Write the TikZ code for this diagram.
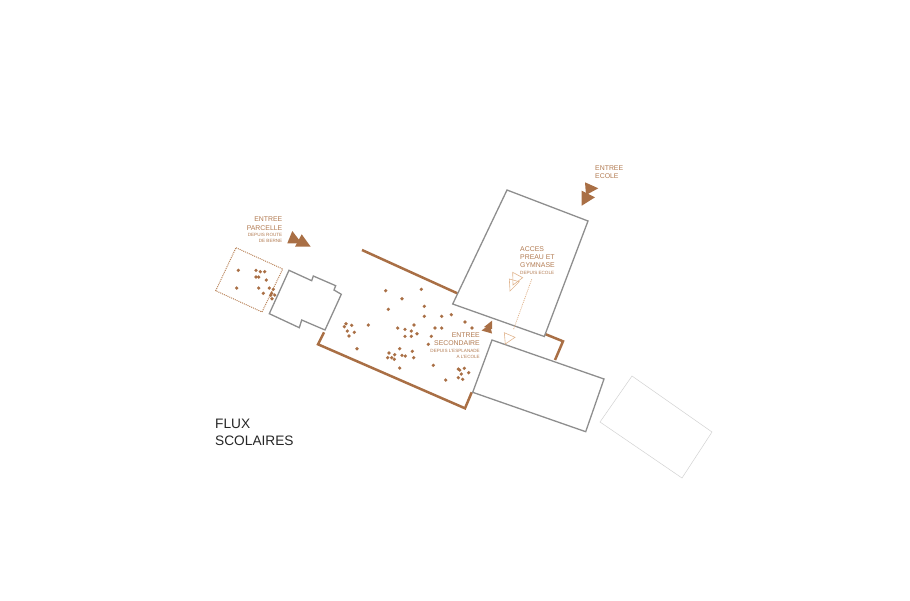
\documentclass[tikz,border=0pt]{standalone}
\usepackage{fontspec}
\setmainfont{Liberation Sans}
\definecolor{brn}{HTML}{A96F45}
\definecolor{txtbrn}{HTML}{B27B52}
\definecolor{lite}{HTML}{E0B48E}
\definecolor{gre}{HTML}{8E8E8E}
\newcommand{\smal}[1]{{\fontsize{4.6}{5.2}\selectfont #1}}
\begin{document}
\begin{tikzpicture}[x=1pt,y=-1pt,
  bld/.style={draw=gre,line width=1.3pt,line join=miter},
  wall/.style={draw=brn,line width=2.5pt},
  arrowtri/.style={fill=brn},
  ghost/.style={draw=lite,line width=0.6pt},
  dotp/.style={fill=brn,draw=none},
  lab/.style={text=txtbrn,inner sep=0pt,font=\fontsize{6.9}{8.2}\selectfont},
  title/.style={text=black!85,inner sep=0pt,align=left,font=\fontsize{13.7}{17}\selectfont}]
\useasboundingbox (0,0) rectangle (910,600);
% parcel
\draw[draw=brn!70!lite,line width=1pt,dash pattern=on 1pt off 1pt] (236,247.7)--(282.7,269)--(262,312)--(215.7,290.7)--cycle;
% walls
\draw[wall] (324,332.3)--(318,344.3)--(465,408.3)--(471.7,392.3);
\draw[wall] (362,250)--(457.3,293.3);
\draw[wall] (545,334)--(563,341.3)--(555,360);
% buildings
\draw[bld] (289,270.3)--(311.7,280.7)--(313.3,276)--(335.7,285.7)--(334,290)--(341.3,294.3)--(325,330)--(301.7,320)--(299.3,327.7)--(269.3,313.7)--cycle;
\draw[bld] (507,190)--(588,221)--(544.3,336.5)--(452.7,304)--cycle;
\draw[bld] (492,340)--(604,379)--(585.7,431.7)--(472.7,392.3)--cycle;
\draw[draw=gray!35,line width=0.5pt] (632,376)--(712,432)--(682,478)--(600,422)--cycle;
% ghost arrows
\draw[ghost,line width=0.8pt,dash pattern=on 1pt off 1pt] (531.7,279.3)--(513.3,330) coordinate (gl);
\draw[ghost] (512.7,272.3)--(522.7,277.7)--(513,285)--cycle;
\draw[ghost] (509.3,279)--(519.3,281.7)--(510,291)--cycle;
\draw[ghost] (504.3,332.7)--(515,337.3)--(505.3,344)--cycle;
% solid arrows
\fill[arrowtri] (292.3,231)--(287.3,243.3)--(301.7,243.3)--cycle;
\fill[arrowtri] (301.7,234.3)--(295,246.7)--(310.7,246.7)--cycle;
\fill[arrowtri] (585,182.3)--(598.3,188.3)--(586,195)--cycle;
\fill[arrowtri] (581.7,190.7)--(595,197.3)--(581.7,205.7)--cycle;
\fill[arrowtri] (492,320.7)--(484,327)--(492,329)--cycle;
\fill[arrowtri] (490,324.5)--(481.5,330.5)--(492,333.5)--cycle;
% dots
\foreach \x/\y in {238.3/270.3,256/270.3,260.3/271.7,264.7/271.7,256/277,258.7/277,266.3/280,236.7/288,258.7/288,269.3/288,273.3/289.3,263.3/293.3,271.7/293.3,270.7/295.3,274.7/295,272/298.7,
385.7/290.7,421.3/289.3,402/298.7,424.3/306.3,388.3/309.3,424.3/316.3,441.7/316.3,451.3/314.7,465/322,472/328,435/328,441.7/328,346/323.7,344.3/326.7,351.7/325.3,368.3/325,347.3/331,354.3/332.3,349/336,357/348.7,397.7/328,405/329.3,411.3/331,414/325,417/333.7,405/336.3,411.3/336.3,431.3/336.3,428.3/344.3,399.7/348.7,412.3/351.3,389/353,394.7/354.7,402/355.3,405.3/356,387.7/357.7,391.7/357.7,394.3/359.3,413.7/357.7,433.3/365.3,399.7/368,458.3/369,459.7/370,464.3/368.3,461.3/374,468.7/372.7,458.3/377.7,462.7/379.3,445.7/380}
  \fill[dotp] (\x,\y) circle (1.8);
% labels
\node[lab,align=right,anchor=north east] (parc) at (282.5,217) {ENTREE\\PARCELLE\\[-1.4pt]\smal{DEPUIS ROUTE}\\[-2.6pt]\smal{DE BERNE}};
\node[lab,align=left,anchor=north west] (ecole) at (595,165.5) {ENTREE\\ECOLE};
\node[lab,align=left,anchor=north west] (acces) at (520,246.5) {ACCES\\PREAU ET\\GYMNASE\\[-1.4pt]\smal{DEPUIS ECOLE}};
\node[lab,align=right,anchor=north east] (sec) at (480,332.5) {ENTREE\\SECONDAIRE\\[-1.4pt]\smal{DEPUIS L'ESPLANADE}\\[-2.6pt]\smal{A L'ECOLE}};
\node[title,anchor=north west] (flux) at (215,418.5) {FLUX\\SCOLAIRES};
\end{tikzpicture}
\end{document}
